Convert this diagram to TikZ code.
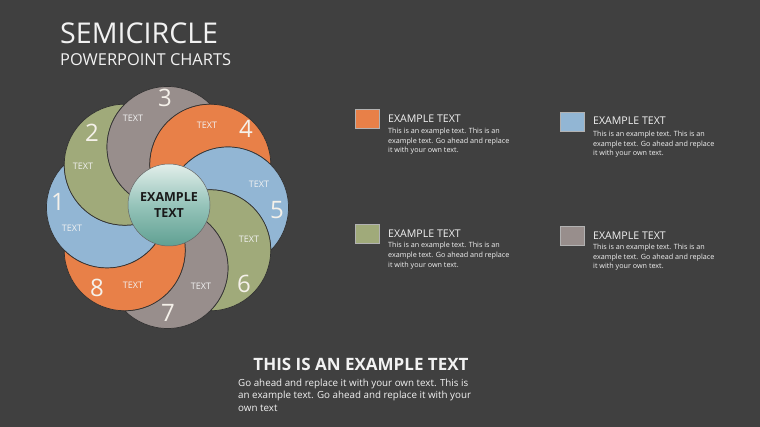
\documentclass[tikz,border=0pt]{standalone}
\usepackage{fontspec}
\setmainfont{Open Sans}
\begin{document}
\begin{tikzpicture}[x=1pt,y=1pt]
\definecolor{bg}{RGB}{64,64,64}
\definecolor{blueP}{RGB}{146,182,212}
\definecolor{greenP}{RGB}{160,170,122}
\definecolor{grayP}{RGB}{152,142,140}
\definecolor{orangeP}{RGB}{232,128,72}
\definecolor{ctop}{RGB}{226,238,234}
\definecolor{cmid}{RGB}{150,196,186}
\definecolor{cbot}{RGB}{96,160,146}
\definecolor{txtw}{RGB}{242,242,242}
\definecolor{numw}{RGB}{245,241,234}
\tikzset{
  petal/.style={draw=black!80, line width=0.7pt},
  numlbl/.style={text=numw, font=\fontsize{24}{26}\selectfont, inner sep=0pt},
  txtlbl/.style={text=txtw, font=\fontsize{9}{10}\selectfont, inner sep=0pt},
  sq/.style={minimum width=24pt, minimum height=19pt, inner sep=0pt, draw=black!30, line width=0.4pt},
  lhead/.style={text=txtw, font=\fontsize{10.6}{12}\selectfont, inner sep=0pt, anchor=base west},
  lbody/.style={text=txtw, font=\fontsize{7.2}{9.7}\selectfont, inner sep=0pt, anchor=north west, align=left},
}
\useasboundingbox (0,0) rectangle (760,427);
\fill[bg] (0,0) rectangle (760,427);
% title
\node[text=txtw, font=\fontsize{28.6}{30}\selectfont, inner sep=0pt, anchor=base west] (title) at (60,383) {SEMICIRCLE};
\node[text=txtw, font=\fontsize{16.4}{19}\selectfont, inner sep=0pt, anchor=base west] (subtitle) at (60,361) {POWERPOINT CHARTS};
% petals
\coordinate (O) at (167.5,219.5);
\foreach \k/\c in {1/blueP,2/greenP,3/grayP,4/orangeP,5/blueP,6/greenP,7/grayP,8/orangeP}{
  \pgfmathsetmacro\t{180-45*(\k-1)}
  \filldraw[petal, fill=\c] (O) arc[start angle=\t+180, end angle=\t-45, radius=60.5]
     arc[start angle=\t, end angle=\t+135, radius=60.5] -- cycle;
}
% center
\node[circle, minimum size=82pt, inner sep=0pt, draw=black!60, line width=0.5pt,
  top color=ctop, bottom color=cbot, middle color=cmid, align=center,
  font=\bfseries\fontsize{12.5}{16}\selectfont, text=black!90] (center) at (169,222) {EXAMPLE\\TEXT};
% numbers
\node[numlbl] (n1) at (58,225) {1};
\node[numlbl] (n2) at (92,294) {2};
\node[numlbl] (n3) at (165,329) {3};
\node[numlbl] (n4) at (246,298) {4};
\node[numlbl] (n5) at (277,217) {5};
\node[numlbl] (n6) at (244,143) {6};
\node[numlbl] (n7) at (168,114) {7};
\node[numlbl] (n8) at (97,139) {8};
% TEXT labels
\node[txtlbl] (t1) at (72,199) {TEXT};
\node[txtlbl] (t2) at (83,261) {TEXT};
\node[txtlbl] (t3) at (133,309) {TEXT};
\node[txtlbl] (t4) at (207,302) {TEXT};
\node[txtlbl] (t5) at (259,243) {TEXT};
\node[txtlbl] (t6) at (249,188) {TEXT};
\node[txtlbl] (t7) at (201,141) {TEXT};
\node[txtlbl] (t8) at (133,142) {TEXT};
% legend
\node[sq, fill=orangeP] (s1) at (367,308.5) {};
\node[sq, fill=blueP] (s2) at (572,305.5) {};
\node[sq, fill=greenP] (s3) at (367,193) {};
\node[sq, fill=grayP] (s4) at (572,191.5) {};
\node[lhead] (h1) at (388,304) {EXAMPLE TEXT};
\node[lhead] (h2) at (593,302) {EXAMPLE TEXT};
\node[lhead] (h3) at (388,189) {EXAMPLE TEXT};
\node[lhead] (h4) at (593,187) {EXAMPLE TEXT};
\node[lbody] (b1) at (388,299.3) {This is an example text. This is an\\example text. Go ahead and replace\\it with your own text.};
\node[lbody] (b2) at (593,296.3) {This is an example text. This is an\\example text. Go ahead and replace\\it with your own text.};
\node[lbody] (b3) at (388,184.8) {This is an example text. This is an\\example text. Go ahead and replace\\it with your own text.};
\node[lbody] (b4) at (593,183.3) {This is an example text. This is an\\example text. Go ahead and replace\\it with your own text.};
% bottom text
\node[text=txtw, font=\bfseries\fontsize{17}{19}\selectfont, inner sep=0pt, anchor=base] (bh) at (361,56) {THIS IS AN EXAMPLE TEXT};
\node[text=txtw, font=\fontsize{9.8}{12.2}\selectfont, inner sep=0pt, anchor=north west, align=left] (bb) at (238,48) {Go ahead and replace it with your own text. This is\\an example text. Go ahead and replace it with your\\own text};
\end{tikzpicture}
\end{document}
